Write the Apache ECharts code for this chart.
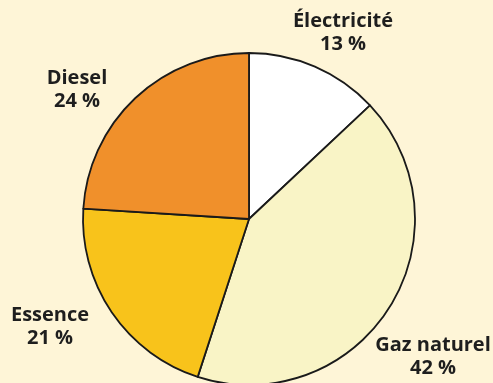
<!DOCTYPE html>
<html>
<head>
<meta charset="utf-8">
<script src="https://cdn.jsdelivr.net/npm/echarts@6/dist/echarts.min.js"></script>
<style>
  html, body { margin: 0; padding: 0; background: #fef5d7; }
  #chart { width: 493px; height: 383px; }
</style>
</head>
<body>
<div id="chart"></div>
<script>
// Energy sources, share in percent (clockwise from 12 o'clock)
const categories = ['Électricité', 'Gaz naturel', 'Essence', 'Diesel'];
const shares = [13, 42, 21, 24];
const colors = ['#ffffff', '#f9f4c6', '#f8c31b', '#f0902b'];
// Label anchor points (centre of each two-line label)
const labelSpots = [[343, 33], [433, 357], [50, 327], [77, 90]];

const chart = echarts.init(document.getElementById('chart'));
chart.setOption({
  backgroundColor: '#fef5d7',
  animation: false,
  series: [{
    type: 'pie',
    center: [249, 219],
    radius: [0, 166],
    startAngle: 90,
    clockwise: true,
    data: categories.map((name, i) => ({
      name,
      value: shares[i],
      itemStyle: { color: colors[i] }
    })),
    itemStyle: { borderColor: '#1a1a1a', borderWidth: 1.8 },
    label: {
      show: true,
      position: 'outside',
      formatter: '{b}\n{c} %',
      fontFamily: 'Open Sans',
      fontWeight: 'bold',
      fontSize: 20,
      lineHeight: 23,
      color: '#1e1e1e',
      align: 'center',
      overflow: 'none'
    },
    labelLine: { show: false },
    labelLayout: function (params) {
      const p = labelSpots[params.dataIndex];
      return { x: p[0], y: p[1], align: 'center', verticalAlign: 'middle' };
    },
    emphasis: { disabled: true }
  }]
});
</script>
</body>
</html>
